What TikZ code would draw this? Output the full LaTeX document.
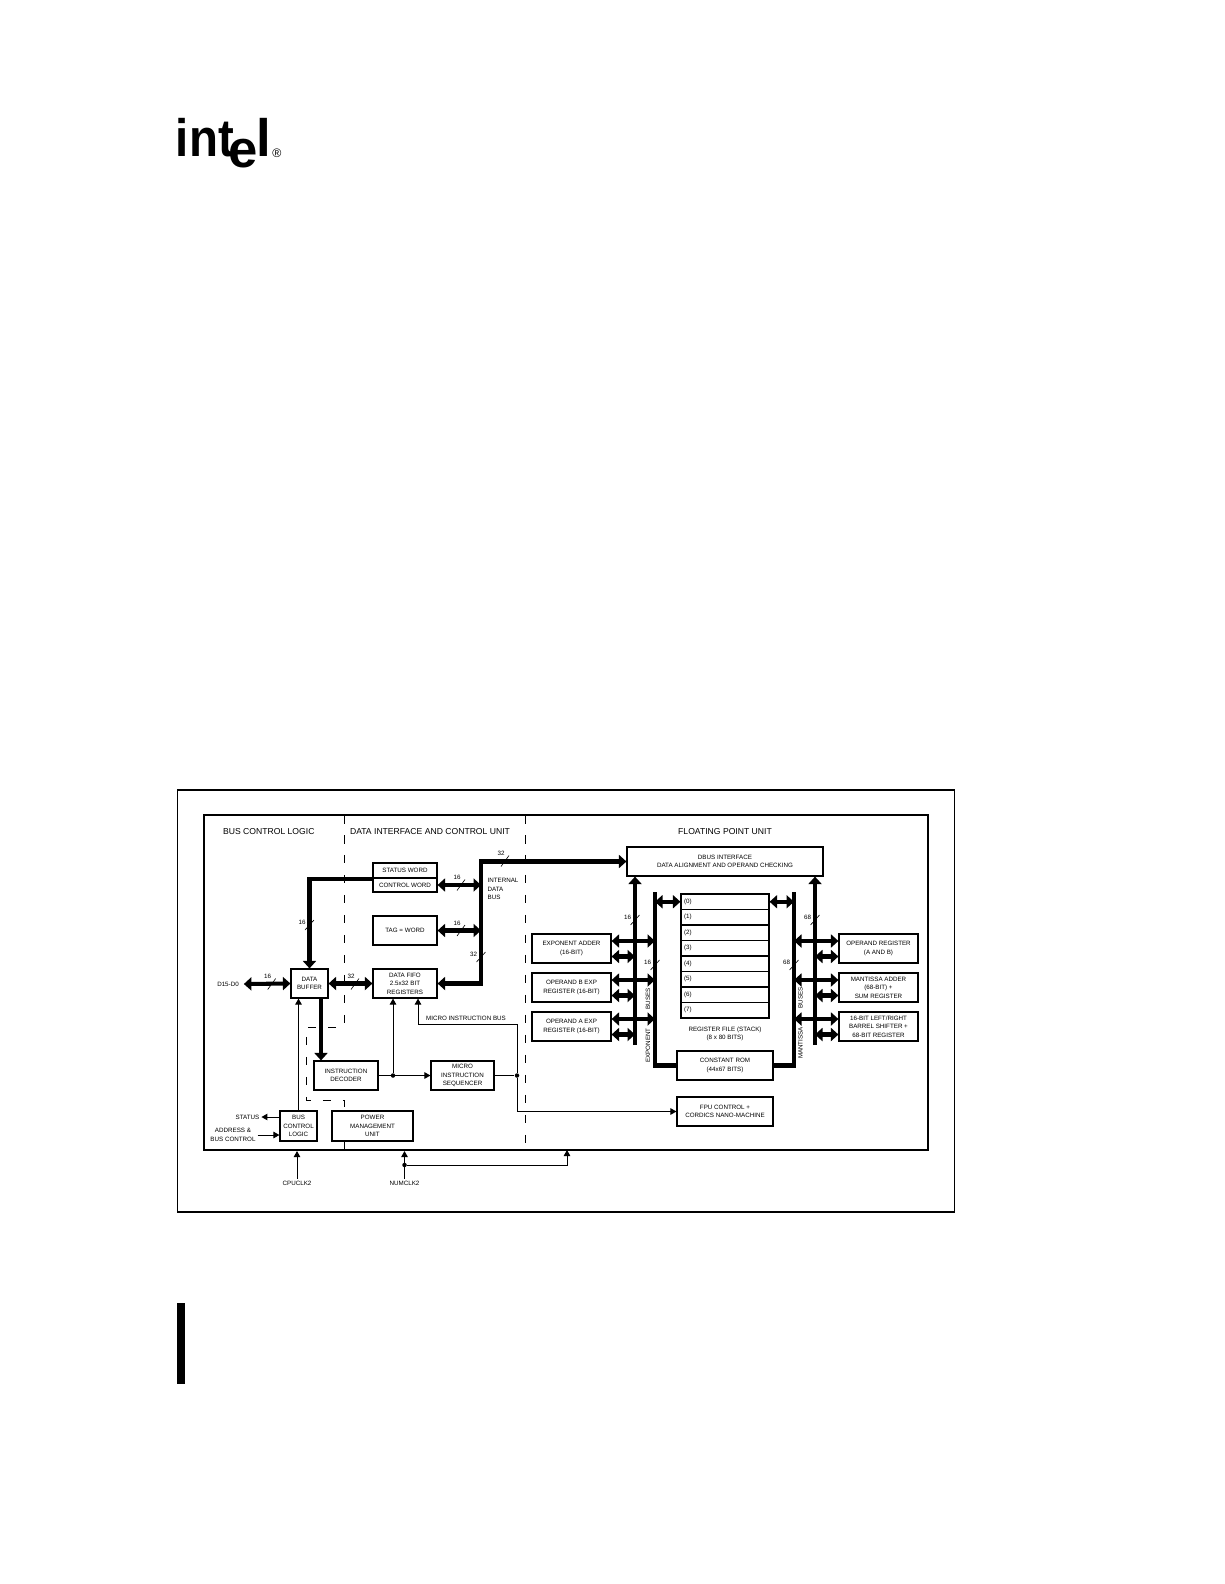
\documentclass[tikz,border=0pt]{standalone}
\usepackage{fontspec}
\setmainfont{Liberation Sans}
\usepackage{tikz}
\usetikzlibrary{arrows.meta,calc}
\tikzset{
    sz/.style 2 args={minimum width=#1*0.02cm,minimum height=#2*0.02cm},
    blk/.style={draw,line width=0.65pt,inner sep=0pt,align=center,font=\fontsize{3.55}{4.8}\selectfont},
    txt/.style={inner sep=1pt,align=center,font=\fontsize{3.55}{4.8}\selectfont},
    head/.style={inner sep=1pt,font=\fontsize{4.9}{6}\selectfont},
    bus/.style={line width=2.3pt,>={Triangle[length=0.15cm,width=0.26cm]}},
    wire/.style={line width=0.55pt,>={Triangle[length=0.12cm,width=0.13cm]}},
    split/.style={line width=0.35pt},
    partition/.style={line width=0.55pt,dash pattern=on 0.17cm off 0.23cm},
    junct/.style={circle,fill=black,inner sep=0pt,minimum size=0.09cm},
    logotxt/.style={inner sep=0pt,anchor=base west,font=\fontsize{30}{30}\bfseries\selectfont},
}
\begin{document}
\begin{tikzpicture}[x=0.02cm,y=-0.02cm]
    \useasboundingbox (0,0) rectangle (1224,1584);

    % logo and change bar
    \node[logotxt] (logoint) at (175.5,157) {\scalebox{0.9}[1]{int}};
    \node[logotxt] (logoe) at (228,167.5) {e};
    \node[logotxt] (logol) at (256.5,157) {l};
    \node[inner sep=0pt,font=\fontsize{7}{7}\selectfont] (logor) at (277,153) {®};
    \node[fill=black,inner sep=0pt,sz={8}{81}] (chgbar) at (181,1343.5) {};

    % frames
    \node[draw,line width=0.6pt,inner sep=0pt,sz={777}{422}] (page) at (566,1001) {};
    \node[draw,line width=1.2pt,inner sep=0pt,sz={724}{335}] (chip) at (566,982.5) {};

    % headings
    \node[head] (hbus) at (268.8,832) {BUS CONTROL LOGIC};
    \node[head] (hdata) at (430,832) {DATA INTERFACE AND CONTROL UNIT};
    \node[head] (hfpu) at (725,832) {FLOATING POINT UNIT};

    % bus control and data interface blocks
    \node[blk,sz={64}{15}] (statusw) at (405,870.5) {STATUS WORD};
    \node[blk,sz={64}{14}] (ctrlw) at (405,885) {CONTROL WORD};
    \node[blk,sz={64}{29}] (tagw) at (405,930.5) {TAG = WORD};
    \node[blk,sz={64}{29}] (fifo) at (405,983.5) {DATA FIFO\\2.5x32 BIT\\REGISTERS};
    \node[blk,sz={37}{29}] (dbuf) at (309.5,983.5) {DATA\\BUFFER};
    \node[blk,sz={64}{29}] (idec) at (346,1075.5) {INSTRUCTION\\DECODER};
    \node[blk,sz={63}{29}] (mseq) at (462.5,1075.5) {MICRO\\INSTRUCTION\\SEQUENCER};
    \node[blk,sz={37}{30}] (bctl) at (298.5,1126) {BUS\\CONTROL\\LOGIC};
    \node[blk,sz={81}{30}] (pmu) at (372.5,1126) {POWER\\MANAGEMENT\\UNIT};

    % floating point blocks
    \node[blk,sz={196}{29}] (dbusif) at (725,861.5) {DBUS INTERFACE\\DATA ALIGNMENT AND OPERAND CHECKING};
    \node[blk,sz={79}{29}] (expadd) at (571.5,948.5) {EXPONENT ADDER\\(16-BIT)};
    \node[blk,sz={79}{29}] (opb) at (571.5,987.5) {OPERAND B EXP\\REGISTER (16-BIT)};
    \node[blk,sz={79}{29}] (opa) at (571.5,1026.5) {OPERAND A EXP\\REGISTER (16-BIT)};
    \node[blk,sz={79}{29}] (opreg) at (878.5,948.5) {OPERAND REGISTER\\(A AND B)};
    \node[blk,sz={79}{29}] (madd) at (878.5,987.5) {MANTISSA ADDER\\(68-BIT) +\\SUM REGISTER};
    \node[blk,sz={79}{29}] (shft) at (878.5,1026.5) {16-BIT LEFT/RIGHT\\BARREL SHIFTER +\\68-BIT REGISTER};
    \node[blk,sz={96}{29}] (crom) at (725,1065.5) {CONSTANT ROM\\(44x67 BITS)};
    \node[blk,sz={96}{29}] (fpuctl) at (725,1111.5) {FPU CONTROL +\\CORDICS NANO-MACHINE};
    \foreach \r in {0,...,7} {
        \node[blk,sz={88}{15.5},text width=0.02cm*82,align=left] (reg\r) at (725,{901.75+15.5*\r}) {(\r)};
    }
    \node[txt] (regtxt) at (725,1034) {REGISTER FILE (STACK)\\(8 x 80 BITS)};

    % bus and partition positions
    \coordinate (ibustop) at (481,861);
    \coordinate (ebusa) at (635,1045);
    \coordinate (ebusb) at (655,892);
    \coordinate (mbusb) at (794,892);
    \coordinate (mbusa) at (815,1045);
    \coordinate (ubend) at (418,1024);
    \coordinate (fputap) at (567,1150);
    \coordinate (parta) at (344,815);
    \coordinate (partb) at (344,1027);
    \coordinate (partc) at (306,1100);
    \coordinate (partd) at (525,815);
    \coordinate (parte) at (525,1150);

    \draw[partition] (parta) -- (partb) -| (partc) -| (pmu.north -| parta);
    \draw[line width=0.55pt] (pmu.south -| parta) -- (chip.south -| parta);
    \draw[partition] (partd) -- (parte);

    % thick buses
    \draw[bus,<->] (fifo.east) -- (fifo.east -| ibustop) |- (dbusif.west);
    \draw[bus,->] (statusw.south west) -| (dbuf.north);
    \draw[bus,->] (dbuf.south -| 321,0) -- (idec.north -| 321,0);
    \draw[bus,<->] (ctrlw.east) -- (ctrlw.east -| ibustop);
    \draw[bus,<->] (tagw.east) -- (tagw.east -| ibustop);
    \draw[bus,<->] (dbuf.east) -- (fifo.west);
    \node[txt] (dq) at (228,984) {D15-D0};
    \draw[bus,<->] (dq.east) ++(3,0) -- (dbuf.west);
    \draw[bus,->] (ebusa) -- (ebusa |- dbusif.south);
    \draw[bus,->] (mbusa) -- (mbusa |- dbusif.south);
    \draw[bus] (ebusb) |- (crom.west);
    \draw[bus] (mbusb) |- (crom.east);
    \draw[bus,<->] (reg0.west) -- (reg0.west -| ebusb);
    \draw[bus,<->] (reg0.east) -- (reg0.east -| mbusb);
    \foreach \b in {expadd,opb,opa} {
        \coordinate (\b up) at ($(\b.east)+(0,-7.5)$);
        \coordinate (\b dn) at ($(\b.east)+(0,8)$);
        \draw[bus,<->] (\b up) -- (\b up -| ebusb);
        \draw[bus,<->] (\b dn) -- (\b dn -| ebusa);
    }
    \foreach \b in {opreg,madd,shft} {
        \coordinate (\b up) at ($(\b.west)+(0,-7.5)$);
        \coordinate (\b dn) at ($(\b.west)+(0,8)$);
        \draw[bus,<->] (\b up) -- (\b up -| mbusb);
        \draw[bus,<->] (\b dn) -- (\b dn -| mbusa);
    }

    % thin control lines
    \node[junct] (jdec) at (393,1075.5) {};
    \node[junct] (jseq) at (517,1075.5) {};
    \node[junct] (jclk) at (404.5,1165) {};
    \draw[wire,->] (idec.east) -- (mseq.west);
    \draw[wire,->] (jdec) -- (jdec |- fifo.south);
    \draw[wire] (mseq.east) -- (jseq);
    \draw[wire,->] (jseq) |- (ubend) -- (ubend |- fifo.south);
    \draw[wire,->] (jseq) |- (fpuctl.west);
    \draw[wire,->] (bctl.north) -- (bctl.north |- dbuf.south);

    \node[txt] (statustxt) at (247.5,1117) {STATUS};
    \node[txt] (addrtxt) at (233,1135) {ADDRESS \&\\BUS CONTROL};
    \node[txt] (cpuclk) at (297,1183) {CPUCLK2};
    \node[txt] (numclk) at (404.5,1183) {NUMCLK2};
    \draw[wire,->] (statustxt.east -| bctl.west) -- (statustxt.east);
    \draw[wire,->] (addrtxt.east) -- (addrtxt.east -| bctl.west);
    \draw[wire,->] (cpuclk.north) -- (cpuclk.north |- chip.south);
    \draw[wire,->] (numclk.north) -- (numclk.north |- chip.south);
    \draw[wire,->] (jclk) -| (fputap);

    % other labels
    \node[txt,align=left,anchor=west] (ibustxt) at (485.5,889) {INTERNAL\\DATA\\BUS};
    \node[txt] (ubustxt) at (466,1018) {MICRO INSTRUCTION BUS};
    \node[txt,rotate=90] (ebustxt) at (648,1045.5) {EXPONENT};
    \node[txt,rotate=90] (ebus2txt) at (648,999) {BUSES};
    \node[txt,rotate=90] (mbustxt) at (800.5,1043) {MANTISSA};
    \node[txt,rotate=90] (mbus2txt) at (800.5,998) {BUSES};

    % bus widths
    \foreach \tx/\ty/\tw [count=\i] in {505/861/32,461/885/16,461/930.5/16,271.7/984/16,355/984/32} {
        \draw[split] ({\tx-4},{\ty+5.5}) -- ({\tx+4},{\ty-5.5});
        \node[txt] (wh\i) at ({\tx-4},{\ty-7.3}) {\tw};
    }
    \foreach \tx/\ty/\tw [count=\i] in {309.5/925/16,481/957/32,635/920/16,655/965/16,794/965/68,815/920/68} {
        \draw[split] ({\tx-4.5},{\ty+5}) -- ({\tx+4.5},{\ty-5});
        \node[txt] (wv\i) at ({\tx-7.5},{\ty-2.3}) {\tw};
    }
\end{tikzpicture}
\end{document}
